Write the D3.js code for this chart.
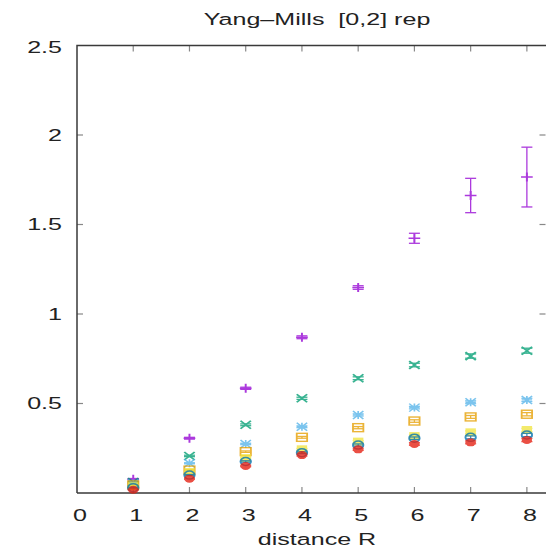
<!DOCTYPE html>
<html>
<head>
<meta charset="utf-8">
<script src="https://cdn.jsdelivr.net/npm/d3@7"></script>
<style>
  html, body { margin: 0; padding: 0; background: #fff; }
  svg { display: block; }
  text { font-family: "Liberation Sans", Arial, Helvetica, sans-serif; fill: #222; }
</style>
</head>
<body>
<svg id="chart" width="546" height="547"></svg>
<script>
// Static potential vs. distance R, one series per representation channel
const distances = [1, 2, 3, 4, 5, 6, 7, 8];

const purpleVals = [0.077, 0.306, 0.585, 0.870, 1.148, 1.423, 1.662, 1.765];
const purpleErr  = [0.004, 0.005, 0.006, 0.008, 0.010, 0.028, 0.096, 0.167];

const greenVals  = [0.061, 0.207, 0.381, 0.529, 0.641, 0.715, 0.765, 0.795];
const greenErr   = [0.003, 0.004, 0.005, 0.006, 0.008, 0.010, 0.012, 0.014];

const skyVals    = [0.053, 0.166, 0.274, 0.370, 0.436, 0.477, 0.507, 0.520];
const skyErr     = [0.002, 0.003, 0.004, 0.005, 0.006, 0.007, 0.008, 0.009];

const orangeVals = [0.045, 0.128, 0.231, 0.311, 0.365, 0.402, 0.425, 0.440];
const orangeErr  = [0.002, 0.003, 0.004, 0.005, 0.006, 0.007, 0.008, 0.009];

const yellowVals = [0.038, 0.117, 0.195, 0.244, 0.287, 0.318, 0.339, 0.352];
const yellowErr  = [0.002, 0.003, 0.004, 0.005, 0.006, 0.007, 0.008, 0.009];

const blueVals   = [0.030, 0.100, 0.176, 0.225, 0.268, 0.306, 0.311, 0.324];
const blueErr    = [0.002, 0.003, 0.004, 0.005, 0.006, 0.007, 0.008, 0.009];

const redVals    = [0.018, 0.080, 0.151, 0.212, 0.244, 0.274, 0.283, 0.296];
const redErr     = [0.002, 0.003, 0.004, 0.005, 0.006, 0.007, 0.008, 0.009];

const xTicks = [0, 1, 2, 3, 4, 5, 6, 7, 8];
const yTicks = [0.5, 1, 1.5, 2, 2.5];
const yTickLabels = ["0.5", "1", "1.5", "2", "2.5"];

const series = [
  { vals: purpleVals, errs: purpleErr, color: "#9400d3", shape: "plus" },
  { vals: greenVals,  errs: greenErr,  color: "#009e73", shape: "cross" },
  { vals: skyVals,    errs: skyErr,    color: "#56b4e9", shape: "star" },
  { vals: orangeVals, errs: orangeErr, color: "#e69f00", shape: "square" },
  { vals: yellowVals, errs: yellowErr, color: "#f0e442", shape: "squareFill" },
  { vals: blueVals,   errs: blueErr,   color: "#0072b2", shape: "circle" },
  { vals: redVals,    errs: redErr,    color: "#e51e10", shape: "circleFill" }
];

const svg = d3.select("#chart");
const plotLeft = 77, plotRight = 546, plotTop = 45.5, plotBottom = 493;
const fontSize = "16.5px";
const stretch = 1.52;   // the output is stretched horizontally

const x = d3.scaleLinear().domain([0, 8.34]).range([plotLeft, plotRight]);
const y = d3.scaleLinear().domain([0, 2.5]).range([plotBottom, plotTop]);

function wideText(px, py, str) {
  svg.append("g").attr("transform", `translate(${px},${py}) scale(${stretch},1)`)
    .append("text").attr("text-anchor", "middle").style("font-size", fontSize).text(str);
}

// Title and axis label
wideText(317, 25, "Yang\u2013Mills\u00a0\u00a0[0,2] rep");
wideText(317, 545, "distance R");

// Ticks (inward, mirrored on all sides)
const tickLen = 6;
const tickG = svg.append("g").attr("stroke", "#888").attr("stroke-width", 1.2);
xTicks.filter(v => v > 0).forEach(v => {
  tickG.append("line").attr("x1", x(v)).attr("x2", x(v)).attr("y1", plotBottom).attr("y2", plotBottom - tickLen);
  tickG.append("line").attr("x1", x(v)).attr("x2", x(v)).attr("y1", plotTop).attr("y2", plotTop + tickLen);
});
yTicks.filter(v => v < 2.5).forEach(v => {
  tickG.append("line").attr("x1", plotLeft).attr("x2", plotLeft + tickLen).attr("y1", y(v)).attr("y2", y(v));
  tickG.append("line").attr("x1", plotRight - 0.5).attr("x2", plotRight - 0.5 - tickLen).attr("y1", y(v)).attr("y2", y(v));
});

// Tick labels via D3 axes with hidden lines
const xAxis = d3.axisBottom(x).tickValues(xTicks).tickFormat(d3.format("d")).tickSize(0).tickPadding(16);
const xg = svg.append("g").attr("transform", `translate(2.5,${plotBottom})`).call(xAxis);
xg.select(".domain").remove();
xg.selectAll("text").style("font-size", fontSize).attr("fill", "#222")
  .attr("transform", `scale(${stretch},1)`);

const yAxis = d3.axisLeft(y).tickValues(yTicks).tickFormat((d, i) => yTickLabels[i]).tickSize(0);
const yg = svg.append("g").attr("transform", `translate(${plotLeft},0)`).call(yAxis);
yg.select(".domain").remove();
yg.selectAll("text").style("font-size", fontSize).attr("fill", "#222")
  .attr("x", -15 / stretch).attr("transform", `scale(${stretch},1)`);
yg.selectAll(".tick").filter(d => d === 2.5).select("text").attr("dy", "0.45em");

// Border
svg.append("path")
  .attr("d", `M${plotLeft},${plotBottom}H${plotRight + 2}M${plotLeft},${plotBottom}V${plotTop}H${plotRight + 2}`)
  .attr("stroke", "#3a3a3a").attr("stroke-width", 1.5).attr("fill", "none");

// Data: error bars then markers
const plot = svg.append("g");
const capW = 5.5;
const r = 4;
series.forEach(s => {
  const g = plot.append("g").attr("opacity", 0.78);
  distances.forEach((d, i) => {
    const cx = x(d), cy = y(s.vals[i]);
    const y1 = y(s.vals[i] + s.errs[i]), y2 = y(s.vals[i] - s.errs[i]);
    const eb = g.append("g").attr("stroke", s.color).attr("stroke-width", 1.3);
    eb.append("line").attr("x1", cx).attr("x2", cx).attr("y1", y1).attr("y2", y2);
    eb.append("line").attr("x1", cx - capW).attr("x2", cx + capW).attr("y1", y1).attr("y2", y1);
    eb.append("line").attr("x1", cx - capW).attr("x2", cx + capW).attr("y1", y2).attr("y2", y2);

    const m = g.append("g").attr("transform", `translate(${cx},${cy}) scale(1.3,1)`);
    switch (s.shape) {
      case "plus":
        m.append("path").attr("d", `M${-r - 0.5},0H${r + 0.5}M0,${-r - 0.5}V${r + 0.5}`)
          .attr("stroke", s.color).attr("stroke-width", 1.5);
        break;
      case "cross":
        m.append("path").attr("d", `M${-r},${-r}L${r},${r}M${-r},${r}L${r},${-r}`)
          .attr("stroke", s.color).attr("stroke-width", 1.6);
        break;
      case "star":
        m.append("path").attr("d", `M${-r},0H${r}M0,${-r}V${r}M${-r},${-r}L${r},${r}M${-r},${r}L${r},${-r}`)
          .attr("stroke", s.color).attr("stroke-width", 1.3);
        break;
      case "square":
        m.append("rect").attr("x", -r).attr("y", -r).attr("width", 2 * r).attr("height", 2 * r)
          .attr("fill", "none").attr("stroke", s.color).attr("stroke-width", 1.4);
        break;
      case "squareFill":
        m.append("rect").attr("x", -r).attr("y", -r).attr("width", 2 * r).attr("height", 2 * r)
          .attr("fill", s.color);
        break;
      case "circle":
        m.append("circle").attr("r", r).attr("fill", "none")
          .attr("stroke", s.color).attr("stroke-width", 1.5);
        break;
      case "circleFill":
        m.append("circle").attr("r", r).attr("fill", s.color);
        break;
    }
  });
});
</script>
</body>
</html>
